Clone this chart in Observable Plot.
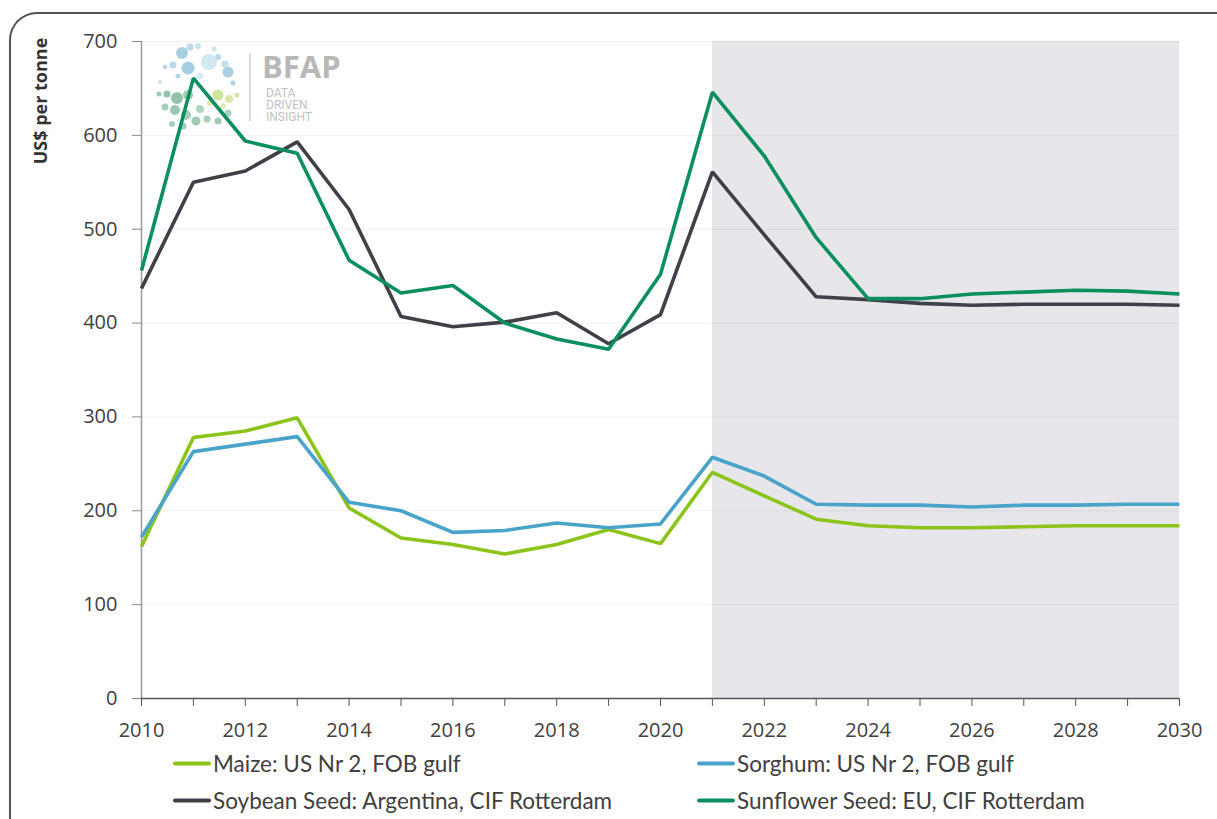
<!DOCTYPE html>
<html>
<head>
<meta charset="utf-8">
<script src="https://cdn.jsdelivr.net/npm/d3@7"></script>
<script src="https://cdn.jsdelivr.net/npm/@observablehq/plot@0.6"></script>
<style>
  html, body { margin: 0; padding: 0; background: #fff; }
  body { width: 1217px; height: 819px; overflow: hidden; position: relative; font-family: Lato, "Open Sans", sans-serif; }
  #frame { position: absolute; left: 9px; top: 12px; width: 1260px; height: 860px; border-top: 2px solid #555; border-left: 2px solid #555; border-top-left-radius: 28px; box-sizing: border-box; }
  #logo { position: absolute; left: 0; top: 0; z-index: 0; }
  #chart { position: absolute; left: 0; top: 0; z-index: 1; }
  #ylabel { position: absolute; left: 40px; top: 101px; transform: translate(-50%, -50%) rotate(-90deg); font-family: "Open Sans", sans-serif; font-weight: 700; font-size: 18px; color: #333; white-space: nowrap; z-index: 2; }
  .leg { position: absolute; display: flex; align-items: center; font-family: Lato, sans-serif; font-size: 22.5px; color: #404040; white-space: nowrap; z-index: 2; transform: translateY(-50%); }
  .sw { width: 38px; height: 4px; border-radius: 2px; margin-right: 2px; }
</style>
</head>
<body>
<div id="frame"></div>
<svg id="logo" width="400" height="140"></svg>
<div id="chart"></div>
<div id="ylabel">US$ per tonne</div>
<div id="legend"></div>
<script>
// ---------- data ----------
const years = [2010, 2011, 2012, 2013, 2014, 2015, 2016, 2017, 2018, 2019, 2020,
               2021, 2022, 2023, 2024, 2025, 2026, 2027, 2028, 2029, 2030];
const xLabelYears = [2010, 2012, 2014, 2016, 2018, 2020, 2022, 2024, 2026, 2028, 2030];
const yTicks = [0, 100, 200, 300, 400, 500, 600, 700];
const projection = [2021, 2030];

const maize     = [162, 278, 285, 299, 203, 171, 164, 154, 164, 180, 165, 241, 216, 191, 184, 182, 182, 183, 184, 184, 184];
const sorghum   = [172, 263, 271, 279, 209, 200, 177, 179, 187, 182, 186, 257, 237, 207, 206, 206, 204, 206, 206, 207, 207];
const soybean   = [437, 550, 562, 593, 521, 407, 396, 401, 411, 378, 409, 561, 494, 428, 425, 421, 419, 420, 420, 420, 419];
const sunflower = [456, 661, 594, 581, 467, 432, 440, 400, 383, 372, 452, 646, 578, 491, 426, 426, 431, 433, 435, 434, 431];

const seriesNames = ["Maize: US Nr 2, FOB gulf", "Sorghum: US Nr 2, FOB gulf",
                     "Soybean Seed: Argentina, CIF Rotterdam", "Sunflower Seed: EU, CIF Rotterdam"];
const seriesColors = ["#8cc41c", "#4aa3c8", "#404048", "#0b8f5e"];
const seriesValues = [maize, sorghum, soybean, sunflower];

// ---------- table ----------
const rows = [];
seriesNames.forEach((name, i) => {
  years.forEach((yr, j) => rows.push({series: name, year: yr, value: seriesValues[i][j]}));
});

// ---------- chart ----------
const chart = Plot.plot({
  width: 1217,
  height: 745,
  marginTop: 41,
  marginBottom: 47,
  marginLeft: 141,
  marginRight: 38,
  style: {background: "transparent", fontFamily: "Open Sans, sans-serif", fontSize: "20px", color: "#404040"},
  x: {type: "linear", domain: [2010, 2030]},
  y: {domain: [0, 700]},
  color: {domain: seriesNames, range: seriesColors},
  marks: [
    Plot.rect([projection], {x1: d => d[0], x2: d => d[1], y1: 0, y2: 700, fill: "#e7e7eb"}),
    Plot.gridY(yTicks.filter(d => d > 0), {stroke: "#000", strokeOpacity: 0.06}),
    Plot.ruleX([2010], {stroke: "#9a9a9a", strokeWidth: 1.5}),
    Plot.axisY({ticks: yTicks, tickSize: 9, tickPadding: 15, stroke: "#8a8a8a", fill: "#404040", fontSize: 20, label: null}),
    Plot.axisX({ticks: years, tickSize: 8, stroke: "#555", text: null, label: null}),
    Plot.axisX({ticks: xLabelYears, tickSize: 0, tickPadding: 24, tickFormat: d => String(d), fill: "#404040", fontSize: 20, label: null}),
    Plot.ruleY([0], {stroke: "#555", strokeWidth: 1.5}),
    Plot.line(rows, {x: "year", y: "value", z: "series", stroke: "series", strokeWidth: 3.6, strokeLinejoin: "miter", strokeLinecap: "butt"})
  ]
});
document.getElementById("chart").appendChild(chart);

// ---------- legend ----------
const legendPos = [{left: 173, top: 763}, {left: 697, top: 763}, {left: 173, top: 800}, {left: 697, top: 800}];
const legend = document.getElementById("legend");
seriesNames.forEach((name, i) => {
  const d = document.createElement("div");
  d.className = "leg";
  d.style.left = legendPos[i].left + "px";
  d.style.top = legendPos[i].top + "px";
  d.innerHTML = `<div class="sw" style="background:${seriesColors[i]}"></div><span>${name}</span>`;
  legend.appendChild(d);
});

// ---------- logo (decoration) ----------
const logoDots = [
  [182,53,6,"#a9cfe3"],[190,47,3.5,"#bcdcea"],[198,46,3,"#c8e2ee"],[209,62,8,"#d3e8f0"],[188,68,6.5,"#a6cde2"],
  [173,65,3.5,"#b9d8e8"],[218,57,3,"#b8d7e7"],[228,72,5.5,"#a9cfe3"],[225,64,3.5,"#c3dfec"],[233,83,2.5,"#b0d2e5"],
  [165,67,2.5,"#c0dcea"],[160,82,2,"#c6e0ec"],[178,76,2.5,"#b5d6e7"],[200,76,3.5,"#d9ebf2"],[214,49,2.5,"#cfe5ef"],
  [159,94,2.5,"#9cc9b0"],[167,94,3.5,"#8fc2a6"],[177,98,6,"#93c4aa"],[188,95,5,"#a0cbb4"],[165,107,3.5,"#a6cfb8"],
  [175,110,5,"#9bc8af"],[186,115,5,"#a3ccb6"],[196,121,4.5,"#9fcab3"],[207,119,3.5,"#a8d0ba"],[218,121,3.5,"#a3ccb5"],
  [228,113,3.5,"#aad1bc"],[200,109,4,"#b1d4c0"],[218,95,5.5,"#cfe39a"],[229,99,4,"#d6e8a8"],[210,103,3,"#dbeab2"],
  [237,95,2.5,"#d2e5a0"],[223,106,3,"#dfedb8"],[172,124,3,"#a8d0ba"],[183,126,3.5,"#a0cbb4"]
];
const logo = d3.select("#logo");
logo.selectAll("circle").data(logoDots).join("circle")
  .attr("cx", d => d[0]).attr("cy", d => d[1]).attr("r", d => d[2]).attr("fill", d => d[3]);
logo.append("line").attr("x1", 250).attr("x2", 250).attr("y1", 53).attr("y2", 121).attr("stroke", "#d0d0d0").attr("stroke-width", 1.5);
logo.append("text").attr("x", 262).attr("y", 78).text("BFAP")
  .attr("font-family", "Open Sans, sans-serif").attr("font-weight", 700).attr("font-size", 31).attr("fill", "#b8b8b8");
["DATA", "DRIVEN", "INSIGHT"].forEach((t, i) => {
  logo.append("text").attr("x", 266).attr("y", 97 + i * 12).text(t)
    .attr("font-family", "Roboto, sans-serif").attr("font-size", 12).attr("fill", "#c2c2c2");
});
</script>
</body>
</html>
